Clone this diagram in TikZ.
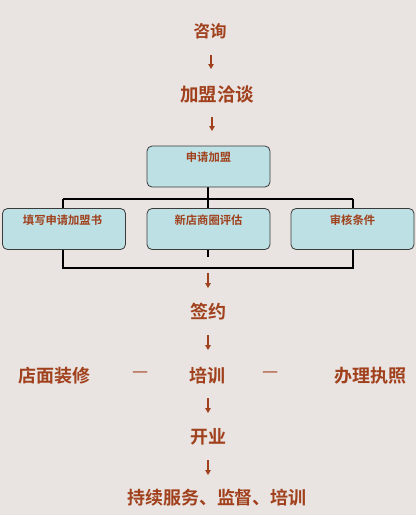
\documentclass[tikz,border=0pt]{standalone}
\usepackage{fontspec}
\newfontfamily\cjk{Noto Sans CJK SC}[BoldFont={Noto Sans CJK SC Bold}]
\usetikzlibrary{arrows.meta}
\definecolor{bg}{HTML}{E9E4E1}
\definecolor{txt}{HTML}{A0401C}
\definecolor{boxfill}{HTML}{BCE0E3}
\definecolor{boxline}{HTML}{3A3A3A}
\begin{document}
\begin{tikzpicture}[x=1pt,y=-1pt,
  lbl/.style={inner sep=0pt,text=txt,font=\cjk\bfseries\fontsize{18}{18}\selectfont},
  flowarrow/.style={draw=txt,line width=1.6pt,-{Triangle[length=5pt,width=5.5pt]}},
  box/.style={draw=boxline,line width=0.8pt,fill=boxfill,rounded corners=5pt,minimum width=123pt,minimum height=41pt,inner sep=0pt},
  boxtxt/.style={inner sep=0pt,text=txt,font=\cjk\bfseries\fontsize{11.3}{11.3}\selectfont},
  conn/.style={draw=black,line width=1.8pt},
  dashtxt/.style={inner sep=0pt,text=txt,font=\cjk\fontsize{18}{18}\selectfont}]
\fill[bg] (0,0) rectangle (416,515);
\useasboundingbox (0,0) rectangle (416,515);

\node[lbl,font=\cjk\bfseries\fontsize{16.5}{16.5}\selectfont] (zx) at (210,31) {咨询};
\coordinate (a1s) at (211,55); \coordinate (a1e) at (211,69);
\draw[flowarrow] (a1s) -- (a1e);
\node[lbl,font=\cjk\bfseries\fontsize{18.5}{18.5}\selectfont] (jm) at (217,94) {加盟洽谈};
\coordinate (a2s) at (212,117); \coordinate (a2e) at (212,131);
\draw[flowarrow] (a2s) -- (a2e);

% org chart
\coordinate (hl) at (63,199); \coordinate (hr) at (353,199);
\coordinate (bl) at (63,268); \coordinate (br) at (353,268);
\coordinate (hm) at (208,199);
\coordinate (stub) at (208,257);
\draw[conn] (hl) -- (hr);
\draw[conn] (hm) -- (208,187);
\draw[conn] (hl) -- (bl) -- (br) -- (hr);
\draw[conn] (208,199) -- (208,208);
\draw[conn] (208,250) -- (stub);

\node[box] (sq) at (208.5,166.5) {};
\node[boxtxt] (sqt) at (208.5,157) {申请加盟};
\node[box] (b1) at (64,229) {};
\node[boxtxt] (b1t) at (62.5,220) {填写申请加盟书};
\node[box] (b2) at (208.5,229) {};
\node[boxtxt] (b2t) at (208.5,220) {新店商圈评估};
\node[box] (b3) at (352.5,229) {};
\node[boxtxt] (b3t) at (352.5,220) {审核条件};

\coordinate (a3s) at (208,273); \coordinate (a3e) at (208,288);
\draw[flowarrow] (a3s) -- (a3e);
\node[lbl] (qy) at (208,312) {签约};
\coordinate (a4s) at (208,335); \coordinate (a4e) at (208,350);
\draw[flowarrow] (a4s) -- (a4e);

\node[lbl] (dm) at (55,376) {店面装修};
\node[lbl] (px) at (207,376) {培训};
\node[lbl] (bl2) at (370,376) {办理执照};
\node[dashtxt] (d1) at (140.5,374.5) {—};
\node[dashtxt] (d2) at (271,374.5) {—};

\coordinate (a5s) at (208,398); \coordinate (a5e) at (208,413);
\draw[flowarrow] (a5s) -- (a5e);
\node[lbl] (ky) at (208,437) {开业};
\coordinate (a6s) at (208,460); \coordinate (a6e) at (208,475);
\draw[flowarrow] (a6s) -- (a6e);
\node[lbl] (cx) at (217,498) {持续服务、监督、培训};
\end{tikzpicture}
\end{document}
